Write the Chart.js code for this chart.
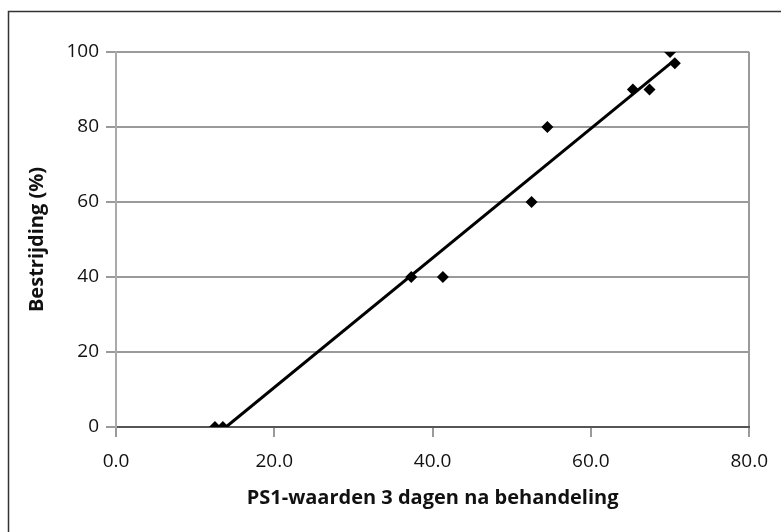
<!DOCTYPE html>
<html>
<head>
<meta charset="utf-8">
<script src="https://cdn.jsdelivr.net/npm/chart.js@4/dist/chart.umd.min.js"></script>
<style>
  html, body { margin: 0; padding: 0; background: #fff; }
  canvas { display: block; }
</style>
</head>
<body>
<canvas id="chart" width="781" height="532"></canvas>
<script>
// PS1 values 3 days after treatment vs control (%)
const ps1Values = [12.5, 13.5, 37.3, 41.3, 52.5, 54.5, 65.3, 67.4, 70.0, 70.6];
const controlPct = [0, 0, 40, 40, 60, 80, 90, 90, 100, 97];
// linear trendline as drawn (start / end)
const trendX = [13.9, 70.6];
const trendY = [0, 97.9];

const xTitle = "PS1-waarden 3 dagen na behandeling";
const yTitle = "Bestrijding (%)";

const points = ps1Values.map((x, i) => ({ x, y: controlPct[i] }));
const trend = trendX.map((x, i) => ({ x, y: trendY[i] }));

const frame = {
  id: "frame",
  afterDraw(chart) {
    const c = chart.ctx;
    c.save();
    c.strokeStyle = "#333";
    c.lineWidth = 1.5;
    c.beginPath();
    c.moveTo(8.5, 532);
    c.lineTo(8.5, 11.5);
    c.lineTo(781, 11.5);
    c.stroke();
    c.restore();
  },
};

const tickFont = { family: "'Open Sans', sans-serif", size: 19 };
const titleFont = { family: "'Open Sans', sans-serif", size: 20, weight: "bold" };

new Chart(document.getElementById("chart"), {
  type: "scatter",
  data: {
    datasets: [
      {
        label: "trend",
        data: trend,
        showLine: true,
        borderColor: "#000",
        borderWidth: 3,
        pointRadius: 0,
        order: 2,
      },
      {
        label: "data",
        data: points,
        pointStyle: "rectRot",
        pointRadius: 6,
        backgroundColor: "#000",
        borderColor: "#000",
        borderWidth: 0,
        order: 1,
      },
    ],
  },
  options: {
    responsive: false,
    animation: false,
    devicePixelRatio: 1,
    layout: { padding: { top: 52, right: 30, left: 0, bottom: 0 } },
    plugins: { legend: { display: false }, tooltip: { enabled: false } },
    scales: {
      x: {
        type: "linear",
        min: 0,
        max: 80,
        afterFit: (s) => { s.height = 105; },
        ticks: {
          stepSize: 20,
          color: "#111",
          font: tickFont,
          padding: 13,
          maxRotation: 0,
          callback: (v) => v.toFixed(1),
        },
        grid: {
          color: (ctx) => (ctx.tick && ctx.tick.value === 80 ? "#9a9a9a" : "rgba(0,0,0,0)"),
          lineWidth: 2,
          tickColor: "#9a9a9a",
          tickLength: 10,
        },
        border: { color: "#555", width: 2 },
        title: {
          display: true,
          text: xTitle,
          color: "#111",
          font: titleFont,
          padding: { top: 4, bottom: 22 },
        },
      },
      y: {
        min: 0,
        max: 100,
        afterFit: (s) => { s.width = 116; },
        ticks: { stepSize: 20, color: "#111", font: tickFont, padding: 7 },
        grid: {
          color: "#9a9a9a",
          lineWidth: 2,
          tickColor: "#9a9a9a",
          tickLength: 10,
        },
        border: { color: "#aaa", width: 2 },
        title: {
          display: true,
          text: yTitle,
          color: "#111",
          font: titleFont,
          padding: { top: 25, bottom: 0 },
        },
      },
    },
  },
  plugins: [frame],
});
</script>
</body>
</html>
